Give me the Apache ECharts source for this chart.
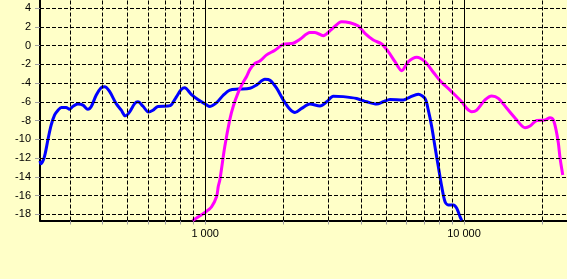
<!DOCTYPE html>
<html><head><meta charset="utf-8">
<script src="https://cdn.jsdelivr.net/npm/echarts@6/dist/echarts.min.js"></script>
<style>html,body{margin:0;padding:0;background:#ffffc8}#c{width:567px;height:279px}</style>
</head><body><div id="c"></div>
<script>
// Frequency (Hz) and level (dB) of the blue curve
const blueFreq=[230,232,237,241,247,254,262,270,278,290,299,308,322,337,352,363,379,396,409,427,453,474,491,510,534,550,574,604,628,657,718,739,773,808,833,883,937,1009,1043,1107,1174,1246,1342,1489,1580,1701,1779,1888,2002,2125,2222,2359,2539,2776,2946,3125,3415,3847,4206,4599,4878,5176,5828,6185,6659,7069,7278,7502,7725,7956,8202,8446,8697,9093,9372,9650,9797];
const blueDb=[-12.3,-12.6,-12.2,-11.5,-10.0,-8.5,-7.4,-6.9,-6.6,-6.6,-6.8,-6.5,-6.25,-6.35,-6.8,-6.5,-5.3,-4.5,-4.4,-4.9,-6.2,-6.9,-7.5,-7.1,-6.2,-6.0,-6.45,-7.1,-6.9,-6.5,-6.45,-6.35,-5.5,-4.7,-4.5,-5.2,-5.75,-6.3,-6.5,-6.1,-5.3,-4.75,-4.65,-4.55,-4.2,-3.6,-3.7,-4.55,-5.8,-6.8,-7.15,-6.7,-6.25,-6.45,-6.0,-5.4,-5.45,-5.65,-6.0,-6.25,-6.0,-5.75,-5.8,-5.5,-5.2,-5.65,-6.9,-8.65,-10.8,-12.9,-15.05,-16.65,-17.0,-17.0,-17.35,-18.25,-18.65];
// Frequency (Hz) and level (dB) of the magenta curve
const magFreq=[894,997,1058,1107,1123,1140,1190,1246,1283,1342,1403,1445,1489,1556,1627,1727,1860,2002,2189,2323,2539,2655,2858,3081,3368,3625,3904,4143,4461,4806,5098,5411,5746,6094,6566,7069,7609,8202,8830,9231,9797,10242,10710,11198,12056,12797,13571,14628,15985,17214,17996,19098,20564,21498,22140,22679,23148,23501,24071];
const magDb=[-18.65,-17.8,-17.2,-16.1,-15.05,-14.3,-10.8,-7.85,-6.5,-5.0,-3.9,-3.3,-2.55,-1.9,-1.65,-1.0,-0.5,0.13,0.24,0.66,1.4,1.4,1.05,1.73,2.54,2.43,2.08,1.3,0.59,0.16,-0.66,-1.73,-2.69,-1.73,-1.26,-1.73,-2.85,-3.95,-4.75,-5.28,-6.0,-6.7,-7.06,-6.88,-5.8,-5.38,-5.63,-6.7,-7.94,-8.76,-8.58,-8.0,-7.94,-7.7,-7.94,-9.0,-10.4,-12.0,-13.8];
// Axis ticks
const yTicks=[-18,-16,-14,-12,-10,-8,-6,-4,-2,0,2,4];
const xMajor=[1000,10000];
const xMinor=[300,400,500,600,700,800,900,2000,3000,4000,5000,6000,7000,8000,9000,20000];
const xLabels=[1000,10000];

const zip=(a,b)=>a.map((v,i)=>[v,b[i]]);
const fmt=v=>String(Math.round(v)).replace(/\B(?=(\d{3})+(?!\d))/g,' ');
const allXTicks=xMinor.concat(xMajor).sort((a,b)=>a-b);
const dash={color:'#000',width:1,type:[4,2]};

const chart=echarts.init(document.getElementById('c'),null,{renderer:'canvas'});
chart.setOption({
  animation:false,
  backgroundColor:'#ffffc8',
  grid:{left:40,right:0,top:0,bottom:58.5,containLabel:false},
  xAxis:{type:'log',logBase:10,min:230,max:25000,
    axisLine:{show:true,onZero:false,lineStyle:{color:'#000',width:2}},
    axisTick:{show:true,length:4,customValues:allXTicks,lineStyle:{color:'#a0a0a0',width:1}},
    axisLabel:{show:true,customValues:xLabels,formatter:fmt,margin:8,color:'#000',fontSize:11,fontFamily:'Liberation Sans, Arial, sans-serif'},
    splitLine:{show:false},minorTick:{show:false},minorSplitLine:{show:false}},
  yAxis:{type:'value',min:-18.66,max:4.853,
    axisLine:{show:true,onZero:false,lineStyle:{color:'#000',width:2}},
    axisTick:{show:true,length:5,customValues:yTicks,lineStyle:{color:'#a0a0a0',width:1}},
    axisLabel:{show:true,customValues:yTicks,margin:9,color:'#000',fontSize:11,fontFamily:'Liberation Sans, Arial, sans-serif'},
    splitLine:{show:false}},
  series:[
    {type:'line',data:[],silent:true,z:1,
      markLine:{silent:true,symbol:['none','none'],label:{show:false},animation:false,
        data:[].concat(
          yTicks.map(v=>({yAxis:v,lineStyle:dash})),
          xMinor.map(v=>({xAxis:v,lineStyle:dash})),
          xMajor.map(v=>({xAxis:v,lineStyle:{color:'#000',width:1,type:'solid'}}))
        )}},
    {type:'line',name:'blue',data:zip(blueFreq,blueDb),showSymbol:false,smooth:0.3,z:3,
      lineStyle:{color:'#0000ff',width:3},itemStyle:{color:'#0000ff'}},
    {type:'line',name:'magenta',data:zip(magFreq,magDb),showSymbol:false,smooth:0.3,z:3,
      lineStyle:{color:'#ff00ff',width:3},itemStyle:{color:'#ff00ff'}}
  ]
});
</script></body></html>
